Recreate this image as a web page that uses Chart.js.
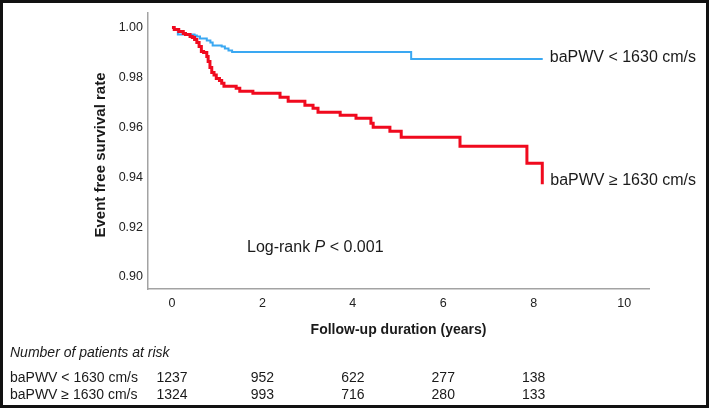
<!DOCTYPE html>
<html><head><meta charset="utf-8">
<script src="https://cdn.jsdelivr.net/npm/chart.js@4/dist/chart.umd.min.js"></script>
<style>html,body{margin:0;padding:0;background:#fff;}canvas{display:block}</style>
</head><body>
<canvas id="c" width="709" height="408"></canvas>
<script>
// Kaplan-Meier curves (time in years, survival)
const lowTimes = [0, 0.05, 0.13, 0.50, 0.55, 0.62, 0.77, 0.85, 0.90, 1.10, 1.17, 1.25, 1.33, 5.29, 8.20];
const lowSurv  = [1.000, 0.9992, 0.9972, 0.9968, 0.9964, 0.9956, 0.9948, 0.9940, 0.9928, 0.9924, 0.9916, 0.9908, 0.9902, 0.9874, 0.9874];
const highTimes = [0, 0.05, 0.15, 0.25, 0.30, 0.40, 0.45, 0.50, 0.55, 0.60, 0.65, 0.70, 0.77, 0.80, 0.84, 0.88, 0.93, 0.98, 1.05, 1.10, 1.15, 1.42, 1.50, 1.79, 2.39, 2.57, 2.94, 3.12, 3.23, 3.72, 4.07, 4.40, 4.45, 4.82, 5.07, 6.37, 7.85, 8.19];
const highSurv  = [1.000, 0.9992, 0.9984, 0.9976, 0.9972, 0.9964, 0.9960, 0.9952, 0.9940, 0.9924, 0.9904, 0.9900, 0.9884, 0.9864, 0.9840, 0.9820, 0.9810, 0.9796, 0.9788, 0.9776, 0.9764, 0.9756, 0.9744, 0.9736, 0.9720, 0.9704, 0.9688, 0.9676, 0.9660, 0.9648, 0.9636, 0.9616, 0.9600, 0.9584, 0.9560, 0.9524, 0.9456, 0.9372];
const xTicks = [0, 2, 4, 6, 8, 10];
const yTicks = [0.90, 0.92, 0.94, 0.96, 0.98, 1.00];
const groupLabels = ['baPWV < 1630 cm/s', 'baPWV \u2265 1630 cm/s'];
const riskTimes = [0, 2, 4, 6, 8];
const riskLow  = [1237, 952, 622, 277, 138];
const riskHigh = [1324, 993, 716, 280, 133];

const FONT = '"Liberation Sans", Arial, sans-serif';
const toPts = (t, s) => t.map((x, i) => ({x: x, y: s[i]}));

const overlay = {
  id: 'overlay',
  afterDraw(chart) {
    const ctx = chart.ctx, xs = chart.scales.x, ys = chart.scales.y;
    ctx.save();
    ctx.fillStyle = '#1a1a1a';
    // curve labels
    ctx.font = '16px ' + FONT;
    ctx.textAlign = 'left'; ctx.textBaseline = 'middle';
    const lowEnd = xs.getPixelForValue(lowTimes[lowTimes.length - 1]);
    ctx.fillText(groupLabels[0], lowEnd + 7, ys.getPixelForValue(lowSurv[lowSurv.length - 1]) - 1);
    const highEnd = xs.getPixelForValue(highTimes[highTimes.length - 1]);
    ctx.fillText(groupLabels[1], highEnd + 8, ys.getPixelForValue(highSurv[highSurv.length - 1]) - 4);
    // log-rank
    let x = 247; const yl = 248;
    ctx.fillText('Log-rank ', x, yl); x += ctx.measureText('Log-rank ').width;
    ctx.font = 'italic 16px ' + FONT;
    ctx.fillText('P', x, yl); x += ctx.measureText('P').width;
    ctx.font = '16px ' + FONT;
    ctx.fillText(' < 0.001', x, yl);
    // axis titles
    ctx.font = 'bold 14px ' + FONT;
    ctx.textAlign = 'center';
    ctx.fillText('Follow-up duration (years)', (chart.chartArea.left + chart.chartArea.right) / 2, 330);
    ctx.save();
    ctx.translate(101, 155); ctx.rotate(-Math.PI / 2);
    ctx.font = 'bold 15px ' + FONT;
    ctx.fillText('Event free survival rate', 0, 0);
    ctx.restore();
    // risk table
    ctx.textAlign = 'left';
    ctx.font = 'italic 14px ' + FONT;
    ctx.fillText('Number of patients at risk', 10, 353);
    ctx.font = '14px ' + FONT;
    ctx.fillText(groupLabels[0], 10, 378);
    ctx.fillText(groupLabels[1], 10, 395);
    ctx.textAlign = 'center';
    riskTimes.forEach((t, i) => {
      const px = xs.getPixelForValue(t);
      ctx.fillText(String(riskLow[i]), px, 378);
      ctx.fillText(String(riskHigh[i]), px, 395);
    });
    // frame
    ctx.strokeStyle = '#111'; ctx.lineWidth = 3;
    ctx.strokeRect(1.5, 1.5, 706, 405);
    ctx.restore();
  }
};

new Chart(document.getElementById('c'), {
  type: 'line',
  data: {
    datasets: [
      { label: groupLabels[1], data: toPts(highTimes, highSurv), borderColor: '#f00a1e', borderWidth: 3, stepped: true, pointRadius: 0, fill: false },
      { label: groupLabels[0], data: toPts(lowTimes, lowSurv), borderColor: '#3aa8f2', borderWidth: 2, stepped: true, pointRadius: 0, fill: false }
    ]
  },
  options: {
    responsive: false, animation: false, devicePixelRatio: 1,
    layout: { padding: { left: 0, right: 60, top: 12, bottom: 0 } },
    plugins: { legend: { display: false }, tooltip: { enabled: false } },
    scales: {
      x: {
        type: 'linear', min: -0.53, max: 10.55,
        afterFit: s => { s.height = 119; },
        afterBuildTicks: s => { s.ticks = xTicks.map(v => ({value: v})); },
        grid: { display: false, drawTicks: false },
        border: { display: true, color: '#a3a3a3', width: 1.5 },
        ticks: { padding: 7, color: '#222', font: { family: FONT, size: 12.5 }, maxRotation: 0, callback: v => String(v) }
      },
      y: {
        type: 'linear', min: 0.8952, max: 1.006,
        afterFit: s => { s.width = 148; },
        afterBuildTicks: s => { s.ticks = yTicks.map(v => ({value: v})); },
        grid: { display: false, drawTicks: false },
        border: { display: true, color: '#a3a3a3', width: 1.5 },
        ticks: { padding: 5, color: '#222', font: { family: FONT, size: 12.5 }, callback: v => Number(v).toFixed(2) }
      }
    }
  },
  plugins: [overlay]
});
</script>
</body></html>
